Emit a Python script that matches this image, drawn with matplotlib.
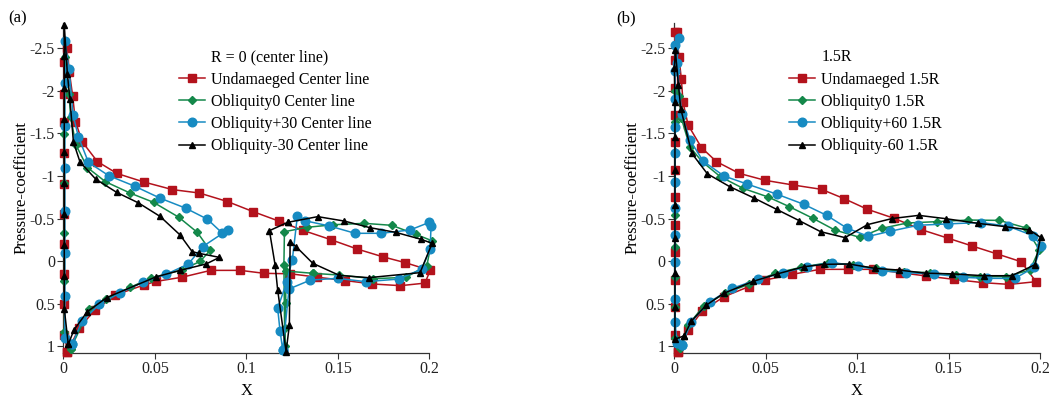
import matplotlib
matplotlib.use("Agg")
import matplotlib.pyplot as plt
from matplotlib.ticker import FuncFormatter

plt.rcParams['font.family'] = ['Liberation Serif', 'DejaVu Serif']
plt.rcParams['font.size'] = 11

# ---------------- panel (a): R = 0 (center line) ----------------
a_undam_x = [0.0022, 0.0006, 0.0006, 0.0006, 0.0006, 0.0006, 0.0006, 0.0005, 0.0005, 0.0005, 0.0005,
             0.0018, 0.0033, 0.0051, 0.0066, 0.0104, 0.0186, 0.0293, 0.0439, 0.0596, 0.0743, 0.0896,
             0.1038, 0.1177, 0.131, 0.1463, 0.1607, 0.1745, 0.1869, 0.2004, 0.1976, 0.1842, 0.1689,
             0.154, 0.1386, 0.124, 0.1098, 0.0967, 0.0805, 0.065, 0.0507, 0.0443, 0.0284, 0.0171,
             0.0086, 0.0022]
a_undam_y = [1.07, 0.87, 0.51, 0.15, -0.2, -0.55, -0.91, -1.27, -1.63, -1.97, -2.34,
             -2.51, -2.22, -1.94, -1.64, -1.40, -1.17, -1.03, -0.93, -0.84, -0.80, -0.70,
             -0.58, -0.47, -0.36, -0.25, -0.14, -0.05, 0.02, 0.11, 0.26, 0.29, 0.27,
             0.23, 0.19, 0.15, 0.145, 0.11, 0.11, 0.19, 0.24, 0.28, 0.40, 0.58,
             0.79, 1.07]

a_obl0_front_x = [0.0040, 0.0006, 0.0006, 0.0006, 0.0006, 0.0006, 0.0008, 0.0031, 0.0040, 0.0069,
                  0.0131, 0.0230, 0.0364, 0.0493, 0.0630, 0.0732, 0.0802, 0.0747, 0.0647, 0.0479,
                  0.0365, 0.0233, 0.0142, 0.0040]
a_obl0_front_y = [1.03, 0.83, 0.24, -0.33, -0.92, -1.49, -2.4, -1.97, -1.69, -1.365,
                  -1.10, -0.933, -0.80, -0.69, -0.516, -0.337, -0.125, 0.005, 0.106, 0.20,
                  0.31, 0.446, 0.568, 1.03]
a_obl0_rear_x = [0.1366, 0.1215, 0.1215, 0.1210, 0.1210, 0.1205, 0.1208, 0.1330, 0.1475, 0.1645,
                 0.1794, 0.1926, 0.2013, 0.1986, 0.1871, 0.1694, 0.1508, 0.1366]
a_obl0_rear_y = [0.145, 0.118, 0.498, 0.79, 1.0, 0.047, -0.345, -0.396, -0.427, -0.443,
                 -0.42, -0.314, -0.239, 0.055, 0.192, 0.208, 0.165, 0.145]

a_oblp_front_x = [0.0049, 0.0008, 0.0008, 0.0008, 0.0008, 0.0008, 0.0008, 0.0008, 0.0008, 0.0031,
                  0.0053, 0.0082, 0.0137, 0.0248, 0.0390, 0.0529, 0.0668, 0.0787, 0.0866, 0.0898,
                  0.0761, 0.0683, 0.0563, 0.0434, 0.0310, 0.0197, 0.0102, 0.0049]
a_oblp_front_y = [0.976, 0.90, 0.408, -0.09, -0.588, -1.09, -1.588, -2.09, -2.59, -2.255,
                  -1.718, -1.463, -1.161, -1.004, -0.88, -0.739, -0.622, -0.492, -0.333, -0.365,
                  -0.169, 0.035, 0.155, 0.251, 0.373, 0.51, 0.706, 0.976]
a_oblp_rear_x = [0.1199, 0.1184, 0.1171, 0.1221, 0.1251, 0.1279, 0.1320, 0.1454, 0.1594, 0.1736,
                 0.1894, 0.2000, 0.2009, 0.2004, 0.1958, 0.1834, 0.1652, 0.1499, 0.1350, 0.1233,
                 0.1199]
a_oblp_rear_y = [1.05, 0.824, 0.557, 0.243, -0.016, -0.533, -0.474, -0.412, -0.326, -0.326,
                 -0.365, -0.455, -0.412, -0.137, 0.094, 0.212, 0.243, 0.204, 0.224, 0.329,
                 1.05]

a_oblm_front_x = [0.0027, 0.0005, 0.0005, 0.0005, 0.0005, 0.0005, 0.0005, 0.0005, 0.0005, 0.0005,
                  0.0005, 0.0022, 0.0036, 0.0055, 0.0091, 0.0177, 0.0291, 0.0410, 0.0529, 0.0638,
                  0.0704, 0.0742, 0.0853, 0.0780, 0.0638, 0.0507, 0.0237, 0.0131, 0.0058, 0.0027]
a_oblm_front_y = [0.98, 0.56, 0.18, -0.19, -0.55, -0.92, -1.28, -1.67, -2.03, -2.41,
                  -2.78, -2.20, -1.90, -1.40, -1.165, -0.963, -0.808, -0.684, -0.524, -0.306,
                  -0.11, -0.09, -0.043, 0.035, 0.11, 0.186, 0.43, 0.596, 0.81, 0.98]
a_oblm_rear_x = [0.1226, 0.1390, 0.1535, 0.1676, 0.1816, 0.1955, 0.2015, 0.1949, 0.1668, 0.1508,
                 0.1363, 0.1272, 0.1239, 0.1235, 0.1217, 0.1171, 0.1157, 0.1126, 0.1226]
a_oblm_rear_y = [-0.455, -0.522, -0.47, -0.392, -0.337, -0.255, -0.208, 0.137, 0.196, 0.169,
                 0.027, -0.168, -0.227, 0.753, 1.067, 0.341, 0.047, -0.357, -0.455]

# ---------------- panel (b): 1.5R ----------------
b_undam_x = [0.0022, 0.0004, 0.0004, 0.0004, 0.0004, 0.0004, 0.0004, 0.0004, 0.0004, 0.0004,
             0.0004, 0.0004, 0.0004, 0.0015, 0.0027, 0.0040, 0.0049, 0.0077, 0.0150, 0.0232,
             0.0356, 0.0498, 0.0651, 0.0806, 0.0930, 0.1057, 0.1203, 0.1351, 0.1499, 0.1630,
             0.1767, 0.1896, 0.1978, 0.1832, 0.1690, 0.1530, 0.1378, 0.1234, 0.1088, 0.0952,
             0.0797, 0.0645, 0.0498, 0.0408, 0.0273, 0.0153, 0.0077, 0.0022]
b_undam_y = [1.067, 0.87, 0.537, 0.224, -0.11, -0.424, -0.757, -1.07, -1.396, -1.718,
             -2.04, -2.365, -2.69, -2.69, -2.396, -2.14, -1.867, -1.60, -1.333, -1.169,
             -1.031, -0.949, -0.894, -0.843, -0.733, -0.608, -0.502, -0.369, -0.267, -0.176,
             -0.082, 0.008, 0.243, 0.275, 0.255, 0.216, 0.176, 0.137, 0.098, 0.098,
             0.098, 0.157, 0.224, 0.302, 0.42, 0.588, 0.812, 1.067]

b_obl0_x = [0.0035, 0.0004, 0.0004, 0.0004, 0.0004, 0.0004, 0.0004, 0.0004, 0.0004, 0.0004,
            0.0027, 0.0040, 0.0086, 0.0153, 0.0253, 0.0377, 0.0514, 0.0630, 0.0759, 0.0878,
            0.1014, 0.1135, 0.1273, 0.1435, 0.1608, 0.1777, 0.1922, 0.1995, 0.1945, 0.1812,
            0.1672, 0.1541, 0.1399, 0.1257, 0.1104, 0.0977, 0.0840, 0.0692, 0.0552, 0.0412,
            0.0279, 0.0162, 0.0077, 0.0035]
b_obl0_y = [1.027, 0.91, 0.545, 0.184, -0.169, -0.541, -0.914, -1.286, -1.64, -2.0,
            -1.94, -1.68, -1.345, -1.169, -0.992, -0.855, -0.753, -0.639, -0.502, -0.365,
            -0.279, -0.384, -0.447, -0.463, -0.482, -0.478, -0.39, -0.135, 0.106, 0.184,
            0.184, 0.165, 0.137, 0.125, 0.086, 0.047, 0.02, 0.075, 0.145, 0.271,
            0.38, 0.529, 0.753, 1.027]

b_oblp_x = [0.0042, 0.0015, 0.0006, 0.0006, 0.0005, 0.0005, 0.0005, 0.0005, 0.0005, 0.0005,
            0.0008, 0.0005, 0.0005, 0.0027, 0.0015, 0.0042, 0.0088, 0.0159, 0.0273, 0.0401,
            0.0565, 0.0709, 0.0834, 0.0944, 0.1062, 0.1181, 0.1332, 0.1499, 0.1678, 0.1827,
            0.1962, 0.2007, 0.1966, 0.1863, 0.1711, 0.1581, 0.1420, 0.1270, 0.1136, 0.1006,
            0.0865, 0.0725, 0.0594, 0.0460, 0.0316, 0.0196, 0.0095, 0.0042]
b_oblp_y = [0.99, 0.968, 0.714, 0.45, 0.01, -0.31, -0.62, -0.93, -1.267, -1.58,
            -1.906, -2.23, -2.54, -2.62, -2.33, -1.726, -1.42, -1.175, -1.0, -0.904,
            -0.784, -0.667, -0.537, -0.388, -0.29, -0.35, -0.42, -0.437, -0.453, -0.408,
            -0.298, -0.176, 0.076, 0.204, 0.204, 0.192, 0.153, 0.137, 0.116, 0.06,
            0.018, 0.066, 0.141, 0.216, 0.322, 0.478, 0.714, 0.99]

b_oblm_x = [0.0055, 0.0005, 0.0005, 0.0005, 0.0005, 0.0005, 0.0005, 0.0005, 0.0005, 0.0002,
            0.0007, 0.0024, 0.0037, 0.0097, 0.0182, 0.0304, 0.0437, 0.0562, 0.0683, 0.0801,
            0.0934, 0.1057, 0.1192, 0.1337, 0.1485, 0.1660, 0.1810, 0.1942, 0.2003, 0.1972,
            0.1845, 0.1693, 0.1520, 0.1374, 0.1228, 0.1100, 0.0955, 0.0821, 0.0710, 0.0565,
            0.0433, 0.0271, 0.0176, 0.0095, 0.0055]
b_oblm_y = [0.88, 0.92, 0.537, 0.145, -0.267, -0.659, -1.07, -1.463, -1.875, -2.267,
            -2.48, -2.07, -1.79, -1.267, -1.026, -0.875, -0.741, -0.606, -0.476, -0.345,
            -0.275, -0.428, -0.5, -0.537, -0.498, -0.443, -0.404, -0.365, -0.278, 0.043,
            0.173, 0.173, 0.151, 0.143, 0.106, 0.087, 0.035, 0.039, 0.067, 0.151,
            0.239, 0.38, 0.52, 0.706, 0.88]

a_title = "R = 0 (center line)"
a_labels = ["Undamaeged Center line", "Obliquity0 Center line",
            "Obliquity+30 Center line", "Obliquity-30 Center line"]
b_title = "1.5R"
b_labels = ["Undamaeged 1.5R", "Obliquity0 1.5R", "Obliquity+60 1.5R", "Obliquity-60 1.5R"]

y_ticks = [-2.5, -2, -1.5, -1, -0.5, 0, 0.5, 1]
x_ticks = [0, 0.05, 0.1, 0.15, 0.2]

# styles: colour, marker, marker size
styles = [('#b3121c', 's', 5.5),
          ('#14884a', 'D', 4.5),
          ('#178bc2', 'o', 6.2),
          ('#000000', '^', 4.5)]

a_series = [[(a_undam_x, a_undam_y)],
            [(a_obl0_front_x, a_obl0_front_y), (a_obl0_rear_x, a_obl0_rear_y)],
            [(a_oblp_front_x, a_oblp_front_y), (a_oblp_rear_x, a_oblp_rear_y)],
            [(a_oblm_front_x, a_oblm_front_y), (a_oblm_rear_x, a_oblm_rear_y)]]
b_series = [[(b_undam_x, b_undam_y)], [(b_obl0_x, b_obl0_y)],
            [(b_oblp_x, b_oblp_y)], [(b_oblm_x, b_oblm_y)]]

fig = plt.figure(figsize=(10.54, 4.01), dpi=100)
ax_a = fig.add_axes([0.0601, 0.1197, 0.3473, 0.823])
ax_b = fig.add_axes([0.6395, 0.1197, 0.3473, 0.823])


def draw_panel(ax, series, labels, title, leg_anchor, tag, tag_x):
    ax.plot([], [], ' ', label=title)
    for segs, lab, (col, mk, ms) in zip(series, labels, styles):
        for i, (xs, ys) in enumerate(segs):
            ax.plot(xs, ys, color=col, lw=1.1, marker=mk, ms=ms, mec=col, mfc=col,
                    label=lab if i == 0 else None, clip_on=False, zorder=3)
    ax.set_xlim(0, 0.2)
    ax.set_ylim(1.082, -2.8)
    ax.set_xticks(x_ticks)
    ax.set_yticks(y_ticks)
    ax.xaxis.set_major_formatter(FuncFormatter(lambda v, p: '%g' % v))
    ax.yaxis.set_major_formatter(FuncFormatter(lambda v, p: '%g' % v))
    for s in ['top', 'right']:
        ax.spines[s].set_visible(False)
    for s in ['left', 'bottom']:
        ax.spines[s].set_color('#333333')
        ax.spines[s].set_linewidth(0.9)
    ax.tick_params(direction='out', length=4, width=0.8, colors='#333333',
                   labelcolor='#222222', labelsize=11.5, pad=2)
    ax.set_xlabel('X', fontsize=12, labelpad=4)
    ax.set_ylabel('Pressure-coefficient', fontsize=12, labelpad=0)
    ax.legend(loc='upper left', bbox_to_anchor=leg_anchor, bbox_transform=fig.transFigure,
              frameon=False, fontsize=11.5, handlelength=1.6, handletextpad=0.4,
              labelspacing=0.39, borderpad=0, borderaxespad=0)
    fig.text(tag_x, 0.955, tag, fontsize=12, va='center', ha='left')


draw_panel(ax_a, a_series, a_labels, a_title, (0.170, 0.877), '(a)', 0.008)
draw_panel(ax_b, b_series, b_labels, b_title, (0.749, 0.877), '(b)', 0.585)

fig.savefig('out.png', dpi=100)
